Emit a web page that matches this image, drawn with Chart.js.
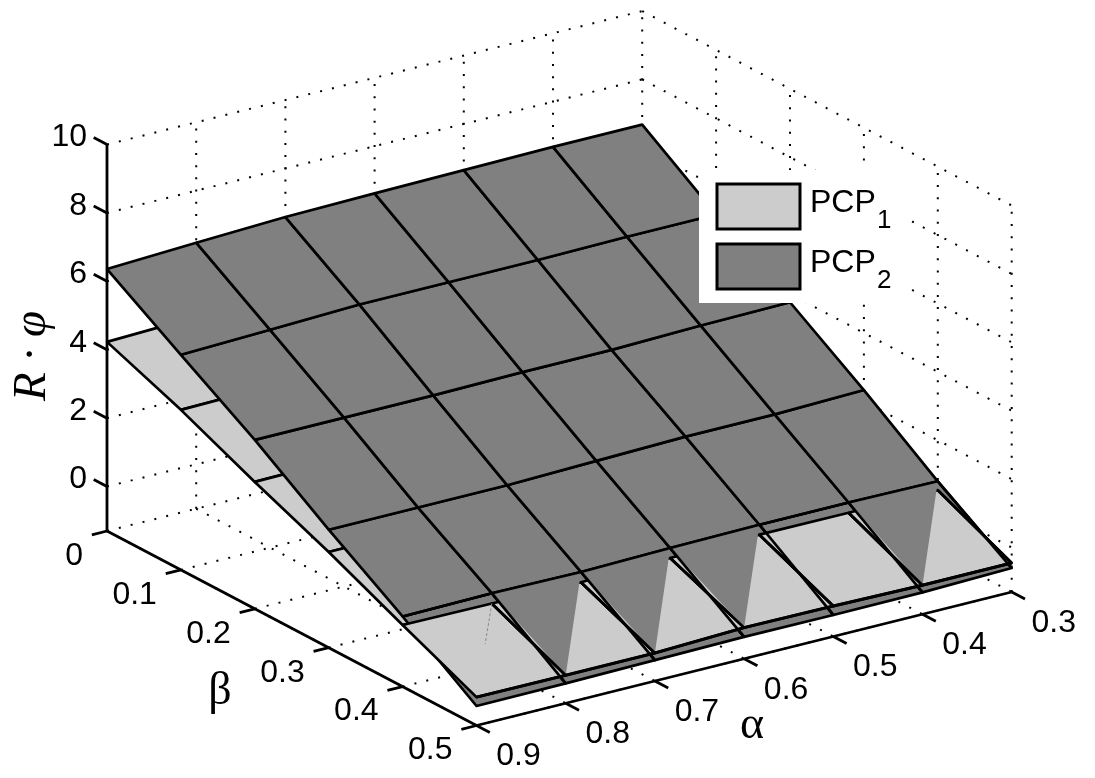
<!DOCTYPE html>
<html>
<head>
<meta charset="utf-8">
<style>html,body{margin:0;padding:0;background:#fff;overflow:hidden}canvas{display:block}</style>
<script src="https://cdn.jsdelivr.net/npm/chart.js@4"></script>
</head>
<body>
<canvas id="c" width="1095" height="778"></canvas>
<script>
// ---- data ----
const alphaTicks = [0.9, 0.8, 0.7, 0.6, 0.5, 0.4, 0.3];
const betaTicks = [0, 0.1, 0.2, 0.3, 0.4, 0.5];
const zTicks = [0, 2, 4, 6, 8, 10];
const alphaLabels = ['0.9','0.8','0.7','0.6','0.5','0.4','0.3'];
const betaLabels = ['0','0.1','0.2','0.3','0.4','0.5'];
const zLabels = ['0','2','4','6','8','10'];
// rows follow betaTicks, columns follow alphaTicks
const pcp2Row0 = [6.36, 6.48, 6.58, 6.62, 6.65, 6.68, 6.68];
const pcp2Row1 = [4.99, 5.07, 5.16, 5.16, 5.16, 5.19, 5.19];
const pcp2Row2 = [3.64, 3.64, 3.64, 3.67, 3.67, 3.73, 3.76];
const pcp2Row3 = [2.15, 2.15, 2.15, 2.21, 2.27, 2.27, 2.33];
const pcp2Row4 = [0.75, 0.78, 0.75, 0.80, 0.83, 0.83, 0.80];
const pcp2Row5 = [-0.73, -0.72, -0.69, -0.66, -0.67, -0.66, -0.60];
const pcp1Row0 = [4.23, 4.31, 4.37, 4.40, 4.43, 4.45, 4.46];
const pcp1Row1 = [3.38, 3.42, 3.46, 3.48, 3.50, 3.51, 3.52];
const pcp1Row2 = [2.41, 2.44, 2.46, 2.48, 2.49, 2.50, 2.50];
const pcp1Row3 = [1.50, 1.51, 1.52, 1.53, 1.54, 1.54, 1.55];
const pcp1Row4 = [0.50, 0.48, 0.45, 0.51, 0.54, 0.53, 0.54];
const pcp1Row5 = [-0.47, -0.48, -0.48, -0.39, -0.41, -0.45, -0.45];
const pcp1 = [pcp1Row0, pcp1Row1, pcp1Row2, pcp1Row3, pcp1Row4, pcp1Row5];
const pcp2 = [pcp2Row0, pcp2Row1, pcp2Row2, pcp2Row3, pcp2Row4, pcp2Row5];
const splitCells = [1, 2, 3, 5];      // front-row cells where PCP2 shows as a triangle
const zFloor = -1.3, zTop = 10;

// ---- view projection (orthographic) from (alpha, beta, z) to the chart scales ----
function proj(a, b, z) {
  const da = (0.9 - a) / 0.1, db = b / 0.1;
  return {
    x: 107 + da * 89.2 + db * 73.9,
    y: 531 - da * 22.25 + db * 38.9 - (z - zFloor) * 34.2
  };
}
const GREY1 = '#cccccc', GREY2 = '#808080', BLACK = '#000000';
const sets = [];
function add(points, o) {
  sets.push(Object.assign({
    data: points.map(p => proj(p[0], p[1], p[2])),
    showLine: true, pointRadius: 0, pointHoverRadius: 0, tension: 0,
    borderColor: BLACK, borderWidth: 2.7, fill: false, clip: false,
    borderCapStyle: 'butt', borderJoinStyle: 'round', order: -sets.length
  }, o));
}
const dotted = {borderWidth: 2, borderDash: [2, 10.2]};
const axisLine = {borderWidth: 2.8};
const aL = alphaTicks[alphaTicks.length - 1], aF = alphaTicks[0], bL = betaTicks[betaTicks.length - 1];

// grid on the two back walls and on the floor
zTicks.forEach(z => {
  add([[aF, 0, z], [aL, 0, z]], dotted);
  add([[aL, 0, z], [aL, bL, z]], dotted);
});
alphaTicks.slice(1).forEach(a => add([[a, 0, zFloor], [a, 0, zTop]], dotted));
betaTicks.slice(1).forEach(b => add([[aL, b, zFloor], [aL, b, zTop]], dotted));
alphaTicks.forEach(a => add([[a, 0, zFloor], [a, bL, zFloor]], dotted));
betaTicks.forEach(b => add([[aF, b, zFloor], [aL, b, zFloor]], dotted));

// axes and tick marks
add([[aF, 0, zFloor], [aF, 0, zTop]], axisLine);
add([[aF, 0, zFloor], [aF, bL, zFloor]], axisLine);
add([[aF, bL, zFloor], [aL, bL, zFloor]], axisLine);
zTicks.forEach(z => add([[aF, 0, z], [aF, -0.018, z]], axisLine));
betaTicks.forEach(b => add([[aF, b, zFloor], [aF + 0.017, b, zFloor]], axisLine));
alphaTicks.forEach(a => add([[a, bL, zFloor], [a, bL + 0.018, zFloor]], axisLine));

function cell(surface, r, c) {
  return [
    [alphaTicks[c], betaTicks[r], surface[r][c]],
    [alphaTicks[c + 1], betaTicks[r], surface[r][c + 1]],
    [alphaTicks[c + 1], betaTicks[r + 1], surface[r + 1][c + 1]],
    [alphaTicks[c], betaTicks[r + 1], surface[r + 1][c]],
    [alphaTicks[c], betaTicks[r], surface[r][c]]
  ];
}
const solid = color => ({fill: 'shape', backgroundColor: color});
const cols = alphaTicks.length - 1, rows = betaTicks.length - 1;

// PCP1 lower sheet
for (let r = 0; r < rows - 1; r++) for (let c = 0; c < cols; c++)
  add(cell(pcp1, r, c), Object.assign(solid(GREY1), {label: 'PCP1'}));
// PCP2 upper sheet
for (let r = rows - 1; r >= 0; r--) for (let c = 0; c < cols; c++)
  add(cell(pcp2, r, c), Object.assign(solid(GREY2), {label: 'PCP2'}));
// front row of PCP1 lying over PCP2
for (let c = 0; c < cols; c++)
  add(cell(pcp1, rows - 1, c), Object.assign(solid(GREY1), {label: 'PCP1'}));
// PCP2 triangles on the split cells
splitCells.forEach(c => {
  add([
    [alphaTicks[c], betaTicks[4], pcp2[4][c]],
    [alphaTicks[c + 1], betaTicks[4], pcp2[4][c + 1]],
    [alphaTicks[c], betaTicks[5], pcp1[5][c]],
    [alphaTicks[c], betaTicks[4], pcp2[4][c]]
  ], Object.assign(solid(GREY2), {label: 'PCP2', borderWidth: 0, borderColor: GREY2}));
});
// redraw the edges that lie on top
for (let c = 1; c <= cols; c++) {
  add([[alphaTicks[c], betaTicks[4], pcp2[4][c]], [alphaTicks[c], betaTicks[5], pcp2[5][c]]], {});
  add([[alphaTicks[c], betaTicks[4], pcp1[4][c]], [alphaTicks[c], betaTicks[5], pcp1[5][c]]], {});
}
add(alphaTicks.map((a, c) => [a, betaTicks[4], pcp2[4][c]]), {});
add(alphaTicks.map((a, c) => [a, betaTicks[5], pcp1[5][c]]), {borderWidth: 3});
add([[0.8, 0.4, 0.48], [0.843, 0.443, 0.07]], {borderWidth: 1, borderColor: '#8a8a8a', borderDash: [3, 2]});

const overlay = {
  id: 'overlay',
  afterDatasetsDraw(chart) {
    const ctx = chart.ctx;
    const sx = chart.scales.x, sy = chart.scales.y;
    const at = p => ({x: sx.getPixelForValue(p.x), y: sy.getPixelForValue(p.y)});
    ctx.save();
    ctx.fillStyle = '#000';
    ctx.font = '32px "Liberation Sans", Arial, sans-serif';
    ctx.textBaseline = 'middle';
    ctx.textAlign = 'right';
    zTicks.forEach((z, i) => {
      const p = at(proj(aF, 0, z));
      ctx.fillText(zLabels[i], p.x - 20, p.y - 7);
    });
    betaTicks.forEach((b, i) => {
      const p = at(proj(aF, b, zFloor));
      ctx.fillText(betaLabels[i], p.x - 24, p.y + 25);
    });
    ctx.textAlign = 'center';
    alphaTicks.forEach((a, i) => {
      const p = at(proj(a, bL, zFloor));
      ctx.fillText(alphaLabels[i], p.x + 42, p.y + 31);
    });
    // axis titles
    ctx.font = '46px "Liberation Serif", "Times New Roman", serif';
    ctx.fillText('β', 220, 692);
    ctx.fillText('α', 752, 726);
    ctx.save();
    ctx.translate(33, 356);
    ctx.rotate(-Math.PI / 2);
    ctx.font = 'italic 47px "Liberation Serif", "Times New Roman", serif';
    ctx.fillText('R · φ', 0, 0);
    ctx.restore();
    // legend
    ctx.fillStyle = '#fff';
    ctx.fillRect(699, 170, 206, 133);
    [[184, GREY1, 'PCP', '1'], [244, GREY2, 'PCP', '2']].forEach(row => {
      ctx.fillStyle = row[1];
      ctx.fillRect(717, row[0], 83, 45);
      ctx.strokeStyle = '#000';
      ctx.lineWidth = 3;
      ctx.strokeRect(717, row[0], 83, 45);
      ctx.fillStyle = '#000';
      ctx.textAlign = 'left';
      ctx.textBaseline = 'alphabetic';
      ctx.font = '32px "Liberation Sans", Arial, sans-serif';
      ctx.fillText(row[2], 810, row[0] + 28);
      ctx.font = '26px "Liberation Sans", Arial, sans-serif';
      ctx.fillText(row[3], 877, row[0] + 44);
    });
    ctx.restore();
  }
};

new Chart(document.getElementById('c'), {
  type: 'scatter',
  data: {datasets: sets},
  options: {
    responsive: false, animation: false, events: [],
    layout: {padding: 0},
    plugins: {legend: {display: false}, tooltip: {enabled: false}},
    scales: {
      x: {type: 'linear', min: 0, max: 1095, display: false},
      y: {type: 'linear', min: 0, max: 778, reverse: true, display: false}
    }
  },
  plugins: [overlay]
});
</script>
</body>
</html>
